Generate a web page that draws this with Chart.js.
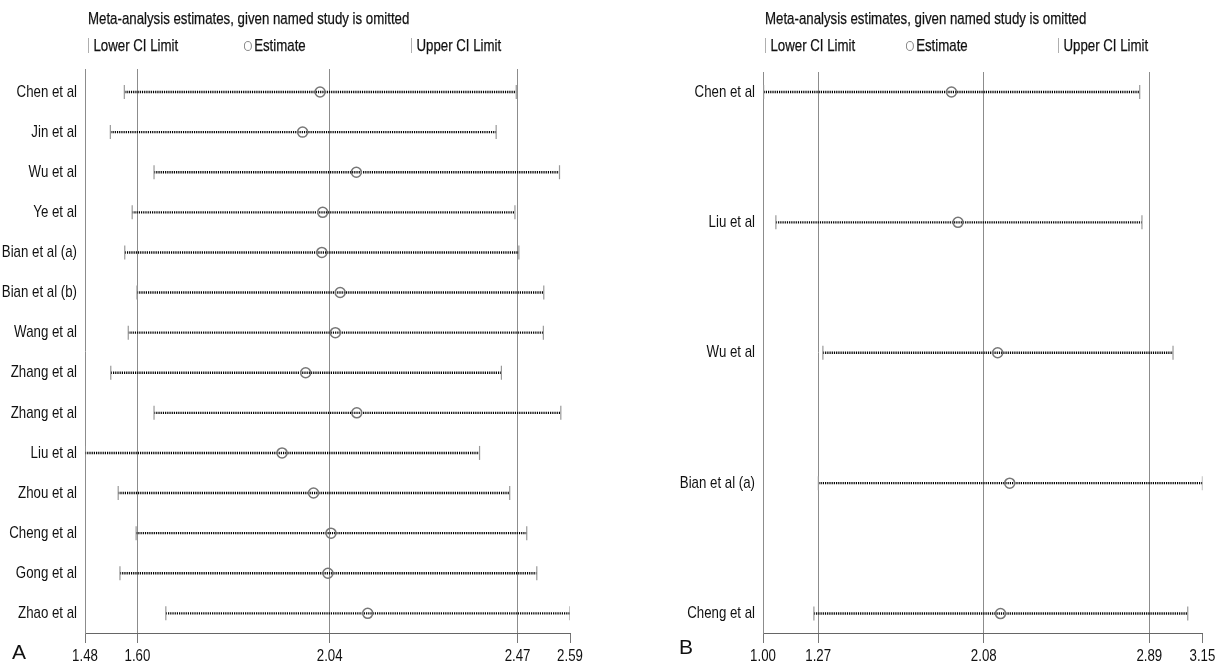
<!DOCTYPE html>
<html>
<head>
<meta charset="utf-8">
<script src="https://cdn.jsdelivr.net/npm/chart.js@4.4.1/dist/chart.umd.min.js"></script>
<style>
  html, body { margin: 0; padding: 0; background: #fff; }
  body {
    width: 1222px; height: 666px; position: relative; overflow: hidden;
    font-family: "Liberation Sans", Arial, sans-serif;
    color: #111;
  }
  canvas { position: absolute; top: 0; }
  #chartA { left: 0; }
  #chartB { left: 611px; }
  .txt {
    position: absolute; white-space: nowrap; font-size: 17px; line-height: 18px;
    transform: scaleX(0.78); transform-origin: 0 0;
    -webkit-text-stroke: 0.25px #111;
  }
  .bar { display: inline-block; width: 1px; height: 15px; background: #999; vertical-align: -2px; margin-right: 6px; }
  .ring { display: inline-block; width: 10px; height: 10px; border: 1.3px solid #777; border-radius: 50%; vertical-align: 0px; margin-right: 3px; box-sizing: border-box; }
  .letter { position: absolute; font-family: "Liberation Sans", Arial, sans-serif; font-size: 21px; line-height: 22px; color: #111; }
</style>
</head>
<body>
<canvas id="chartA" width="611" height="666"></canvas>
<canvas id="chartB" width="611" height="666"></canvas>

<div class="txt" style="left:88px; top:10px;">Meta-analysis estimates, given named study is omitted</div>
<div class="txt" style="left:88px; top:37px;"><span class="bar"></span>Lower CI Limit</div>
<div class="txt" style="left:244px; top:37px;"><span class="ring"></span>Estimate</div>
<div class="txt" style="left:411px; top:37px;"><span class="bar"></span>Upper CI Limit</div>
<div class="letter" style="left:12px; top:641px;">A</div>

<div class="txt" style="left:765px; top:10px;">Meta-analysis estimates, given named study is omitted</div>
<div class="txt" style="left:765px; top:37px;"><span class="bar"></span>Lower CI Limit</div>
<div class="txt" style="left:906px; top:37px;"><span class="ring"></span>Estimate</div>
<div class="txt" style="left:1058px; top:37px;"><span class="bar"></span>Upper CI Limit</div>
<div class="letter" style="left:679px; top:636px;">B</div>

<script>
// Panel A: sensitivity analysis, each study omitted in turn
const studiesA = ['Chen et al', 'Jin et al', 'Wu et al', 'Ye et al', 'Bian et al (a)', 'Bian et al (b)',
  'Wang et al', 'Zhang et al', 'Zhang et al', 'Liu et al', 'Zhou et al', 'Cheng et al', 'Gong et al', 'Zhao et al'];
const lowerA = [1.570, 1.538, 1.638, 1.588, 1.571, 1.599, 1.579, 1.539, 1.638, 1.480, 1.556, 1.597, 1.560, 1.665];
const estimateA = [2.018, 1.978, 2.101, 2.024, 2.022, 2.064, 2.053, 1.985, 2.102, 1.931, 2.003, 2.043, 2.036, 2.127];
const upperA = [2.467, 2.421, 2.566, 2.464, 2.473, 2.530, 2.529, 2.433, 2.569, 2.383, 2.452, 2.491, 2.514, 2.590];
const ticksA = [1.48, 1.60, 2.04, 2.47, 2.59];

// Panel B
const studiesB = ['Chen et al', 'Liu et al', 'Wu et al', 'Bian et al (a)', 'Cheng et al'];
const lowerB = [1.003, 1.063, 1.293, 1.271, 1.249];
const estimateB = [1.922, 1.954, 2.148, 2.207, 2.162];
const upperB = [2.843, 2.854, 3.006, 3.150, 3.078];
const ticksB = [1.00, 1.27, 2.08, 2.89, 3.15];

const FONT = { family: '"Liberation Sans", Arial, sans-serif', size: 17 };
const NARROW = 0.78;

// Draws all canvas text horizontally condensed around its anchor point (narrow-face look)
const narrowText = {
  id: 'narrowText',
  beforeDraw(chart) {
    const ctx = chart.ctx;
    if (ctx.__narrow) return;
    const fill = ctx.fillText;
    ctx.fillText = function (text, x, y, maxWidth) {
      this.save();
      this.translate(x, y);
      this.scale(NARROW, 1);
      if (maxWidth === undefined) fill.call(this, text, 0, 0);
      else fill.call(this, text, 0, 0, maxWidth / NARROW);
      this.restore();
    };
    ctx.__narrow = true;
  }
};

function buildPanel(canvasId, names, lower, est, upper, ticks, layout) {
  const datasets = [];
  // dotted confidence interval for each omitted-study estimate
  names.forEach((_, i) => {
    datasets.push({
      type: 'scatter', showLine: true,
      data: [{ x: lower[i], y: i + 1 }, { x: upper[i], y: i + 1 }],
      borderColor: '#000', borderWidth: 2.4, borderDash: [1.2, 1],
      pointRadius: 0, order: 3
    });
  });
  // interval end caps
  const capStyle = {
    type: 'scatter', pointStyle: 'line', rotation: 90, pointRadius: 7,
    borderColor: '#999', pointBorderWidth: 1.2, borderWidth: 1.2, order: 2
  };
  datasets.push(Object.assign({ label: 'Lower CI Limit', data: lower.map((v, i) => ({ x: v, y: i + 1 })) }, capStyle));
  datasets.push(Object.assign({ label: 'Upper CI Limit', data: upper.map((v, i) => ({ x: v, y: i + 1 })) }, capStyle));
  // point estimates
  datasets.push({
    type: 'scatter', label: 'Estimate',
    data: est.map((v, i) => ({ x: v, y: i + 1 })),
    pointStyle: 'circle', pointRadius: 5, borderColor: '#777', pointBorderWidth: 1.5,
    backgroundColor: 'rgba(255,255,255,0)', order: 1
  });

  const last = ticks.length - 1;
  return new Chart(document.getElementById(canvasId), {
    type: 'scatter',
    data: { datasets },
    plugins: [narrowText],
    options: {
      responsive: false, animation: false,
      layout: { padding: { top: layout.top, right: layout.right, left: 0, bottom: 0 } },
      plugins: { legend: { display: false }, tooltip: { enabled: false } },
      scales: {
        x: {
          type: 'linear', min: ticks[0], max: ticks[last],
          afterBuildTicks: s => { s.ticks = ticks.map(v => ({ value: v })); },
          afterFit: s => { s.height = layout.bottom; },
          ticks: { callback: v => Number(v).toFixed(2), font: FONT, color: '#111', padding: 3, maxRotation: 0, autoSkip: false },
          grid: {
            color: c => (c.index === 0 || c.index === last) ? 'rgba(0,0,0,0)' : '#8c8c8c',
            tickColor: '#777', tickLength: 10, lineWidth: 1
          },
          border: { display: true, color: '#666', width: 1 }
        },
        y: {
          type: 'linear', reverse: true, min: layout.yMin, max: layout.yMax,
          afterBuildTicks: s => { s.ticks = names.map((_, i) => ({ value: i + 1 })); },
          afterFit: s => { s.width = layout.left; },
          ticks: { callback: v => names[v - 1] || '', font: FONT, color: '#111', padding: 8, autoSkip: false },
          grid: { drawOnChartArea: false, drawTicks: false },
          border: { display: true, color: '#8c8c8c', width: 1 }
        }
      }
    }
  });
}

buildPanel('chartA', studiesA, lowerA, estimateA, upperA, ticksA,
  { top: 69, right: 41, bottom: 33, left: 85, yMin: 0.426, yMax: 14.49 });
buildPanel('chartB', studiesB, lowerB, estimateB, upperB, ticksB,
  { top: 72, right: 18, bottom: 33, left: 152, yMin: 0.847, yMax: 5.149 });
</script>
</body>
</html>
